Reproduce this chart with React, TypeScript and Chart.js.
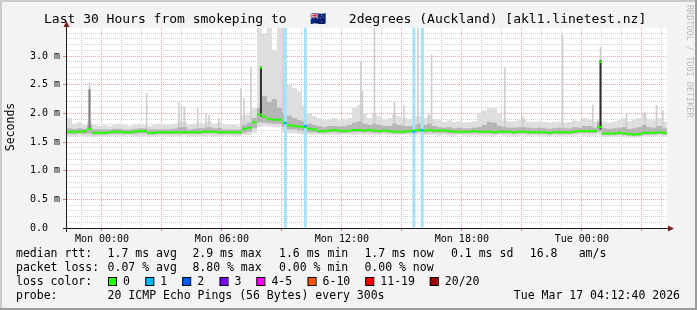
import React, { useEffect, useRef } from "react";
import { Chart, registerables } from "chart.js";

Chart.register(...registerables);

// ---- time axis (hours relative to Mon 00:00) ----
const axisStartHour = -1.75;
const axisEndHour = 28.26;
const binStartHour = -1.75;
const binStepHours = 0.25;
const tickHours = [0, 6, 12, 18, 24];
const tickLabels = ["Mon 00:00", "Mon 06:00", "Mon 12:00", "Mon 18:00", "Tue 00:00"];

// ---- smoke / median per 15-minute bin (ms) ----
const medianRtt = [
  1.68, 1.68, 1.68, 1.69, 1.73, 1.66, 1.66, 1.66, 1.67, 1.68,
  1.68, 1.67, 1.67, 1.68, 1.69, 1.69, 1.66, 1.66, 1.67, 1.67,
  1.67, 1.67, 1.67, 1.67, 1.67, 1.67, 1.67, 1.68, 1.68, 1.68,
  1.67, 1.67, 1.67, 1.67, 1.67, 1.73, 1.75, 1.84, 1.98, 1.94,
  1.90, 1.89, 1.89, 1.84, 1.79, 1.78, 1.77, 1.76, 1.73, 1.72,
  1.69, 1.69, 1.70, 1.71, 1.70, 1.69, 1.70, 1.71, 1.71, 1.70,
  1.71, 1.70, 1.69, 1.70, 1.69, 1.68, 1.68, 1.68, 1.69, 1.70,
  1.71, 1.70, 1.71, 1.70, 1.70, 1.70, 1.69, 1.68, 1.68, 1.68,
  1.68, 1.69, 1.68, 1.68, 1.68, 1.67, 1.68, 1.68, 1.68, 1.67,
  1.68, 1.68, 1.67, 1.67, 1.67, 1.67, 1.66, 1.67, 1.67, 1.67,
  1.67, 1.68, 1.69, 1.69, 1.69, 1.69, 1.76, 1.65, 1.65, 1.65,
  1.66, 1.65, 1.64, 1.63, 1.64, 1.66, 1.66, 1.66, 1.67, 1.66,
];

const smokeMin = [
  1.60, 1.60, 1.61, 1.60, 1.60, 1.59, 1.60, 1.60, 1.60, 1.61,
  1.60, 1.60, 1.61, 1.60, 1.60, 1.60, 1.59, 1.60, 1.60, 1.61,
  1.60, 1.60, 1.60, 1.61, 1.60, 1.60, 1.60, 1.60, 1.61, 1.60,
  1.60, 1.60, 1.61, 1.60, 1.60, 1.62, 1.62, 1.66, 1.76, 1.78,
  1.77, 1.76, 1.76, 1.66, 1.65, 1.65, 1.64, 1.63, 1.63, 1.63,
  1.63, 1.62, 1.63, 1.63, 1.62, 1.63, 1.63, 1.62, 1.63, 1.63,
  1.63, 1.62, 1.62, 1.63, 1.62, 1.62, 1.62, 1.63, 1.62, 1.62,
  1.63, 1.62, 1.62, 1.62, 1.61, 1.62, 1.61, 1.61, 1.62, 1.61,
  1.61, 1.62, 1.61, 1.61, 1.61, 1.61, 1.62, 1.61, 1.61, 1.60,
  1.61, 1.61, 1.60, 1.61, 1.60, 1.60, 1.60, 1.61, 1.60, 1.60,
  1.61, 1.61, 1.62, 1.61, 1.61, 1.61, 1.62, 1.59, 1.59, 1.59,
  1.60, 1.59, 1.58, 1.58, 1.58, 1.60, 1.60, 1.60, 1.61, 1.60,
];

const smokeMax = [
  1.92, 1.82, 1.85, 1.80, 1.86, 1.80, 1.78, 1.80, 1.78, 1.80,
  1.82, 1.80, 1.78, 1.80, 1.82, 1.80, 1.78, 1.80, 1.82, 1.80,
  1.80, 1.82, 1.86, 1.85, 1.80, 1.82, 1.84, 1.82, 1.86, 1.82,
  1.84, 1.80, 1.80, 1.80, 1.78, 1.97, 1.98, 2.09, 3.60, 3.40,
  3.60, 3.10, 3.60, 2.60, 2.50, 2.44, 2.38, 2.15, 2.00, 1.95,
  1.92, 1.88, 1.90, 1.92, 1.88, 1.90, 1.92, 2.10, 2.15, 2.00,
  1.92, 2.00, 1.95, 1.90, 1.92, 2.00, 1.95, 1.92, 1.90, 1.95,
  1.95, 1.92, 1.96, 1.90, 1.88, 1.85, 1.88, 1.85, 1.86, 1.84,
  1.85, 1.86, 2.00, 2.05, 2.09, 2.09, 2.00, 1.88, 1.86, 1.86,
  1.88, 1.90, 1.86, 1.85, 1.86, 1.85, 1.84, 1.85, 1.86, 1.84,
  1.85, 1.88, 1.86, 1.92, 1.90, 1.86, 1.90, 1.86, 1.84, 1.86,
  1.88, 1.92, 1.86, 1.90, 1.92, 2.00, 1.90, 1.88, 1.92, 1.86,
];

const smokeQ1 = [
  1.64, 1.64, 1.65, 1.64, 1.65, 1.63, 1.63, 1.63, 1.64, 1.64,
  1.64, 1.64, 1.64, 1.64, 1.65, 1.65, 1.63, 1.63, 1.64, 1.64,
  1.64, 1.64, 1.64, 1.64, 1.64, 1.64, 1.64, 1.65, 1.65, 1.65,
  1.64, 1.64, 1.64, 1.64, 1.64, 1.66, 1.68, 1.74, 1.84, 1.84,
  1.83, 1.82, 1.82, 1.76, 1.72, 1.72, 1.70, 1.69, 1.67, 1.67,
  1.66, 1.66, 1.67, 1.67, 1.66, 1.66, 1.67, 1.67, 1.67, 1.67,
  1.67, 1.66, 1.66, 1.67, 1.66, 1.65, 1.65, 1.65, 1.66, 1.66,
  1.67, 1.66, 1.67, 1.66, 1.66, 1.66, 1.65, 1.65, 1.65, 1.65,
  1.65, 1.65, 1.65, 1.65, 1.65, 1.64, 1.65, 1.65, 1.65, 1.64,
  1.65, 1.65, 1.64, 1.64, 1.64, 1.64, 1.63, 1.64, 1.64, 1.64,
  1.64, 1.65, 1.66, 1.66, 1.66, 1.66, 1.68, 1.62, 1.62, 1.62,
  1.63, 1.62, 1.61, 1.60, 1.61, 1.63, 1.63, 1.63, 1.64, 1.63,
];

const smokeQ3 = [
  1.74, 1.73, 1.74, 1.73, 1.80, 1.72, 1.72, 1.72, 1.72, 1.73,
  1.73, 1.72, 1.72, 1.73, 1.74, 1.74, 1.72, 1.72, 1.72, 1.72,
  1.72, 1.73, 1.76, 1.76, 1.72, 1.73, 1.74, 1.74, 1.76, 1.74,
  1.74, 1.72, 1.72, 1.72, 1.72, 1.80, 1.84, 1.92, 2.10, 2.30,
  2.20, 2.25, 2.10, 2.00, 1.96, 1.92, 1.88, 1.86, 1.82, 1.80,
  1.78, 1.76, 1.78, 1.78, 1.77, 1.78, 1.80, 1.84, 1.86, 1.82,
  1.80, 1.82, 1.80, 1.78, 1.78, 1.82, 1.80, 1.78, 1.78, 1.80,
  1.82, 1.80, 1.82, 1.78, 1.76, 1.75, 1.76, 1.74, 1.75, 1.74,
  1.74, 1.75, 1.76, 1.80, 1.85, 1.84, 1.78, 1.76, 1.75, 1.75,
  1.76, 1.76, 1.75, 1.74, 1.75, 1.74, 1.73, 1.74, 1.75, 1.74,
  1.74, 1.76, 1.75, 1.78, 1.78, 1.75, 1.85, 1.74, 1.73, 1.74,
  1.75, 1.76, 1.73, 1.74, 1.76, 1.80, 1.76, 1.75, 1.78, 1.74,
];

// ---- individual short-lived peaks (hour, ms) ----
const lightSpikeHours = [
  -0.625, 2.235, 3.85, 3.975, 4.115, 4.785, 5.2, 5.35, 5.85, 6.95, 7.1, 7.45,
  9.05, 12.95, 13.025, 13.625, 14.625, 15.1, 15.8, 16.05, 16.35, 16.485,
  20.15, 21.05, 23.035, 24.55, 24.935, 26.235, 27.15, 27.735, 28.05,
];
const lightSpikeTops = [
  2.54, 2.36, 2.19, 2.14, 2.12, 2.09, 2.0, 1.97, 1.92, 2.44, 2.27, 2.81,
  3.6, 2.9, 2.4, 3.6, 2.2, 2.15, 3.6, 3.6, 2.0, 3.03,
  2.81, 1.95, 3.37, 2.15, 3.16, 2.0, 2.03, 2.15, 2.06,
];
const lightSpikeBottoms = [
  1.72, 1.70, 1.70, 1.70, 1.70, 1.70, 1.70, 1.70, 1.70, 1.72, 1.72, 1.74,
  1.80, 1.72, 1.72, 1.71, 1.70, 1.70, 1.71, 1.71, 1.71, 1.71,
  1.69, 1.69, 1.69, 1.70, 1.72, 1.66, 1.67, 1.67, 1.67,
];

const midSpikeHours = [-0.625];
const midSpikeBottoms = [1.72];
const midSpikeTops = [2.42];

const darkSpikeHours = [7.95, 24.935];
const darkSpikeBottoms = [1.95, 1.72];
const darkSpikeTops = [2.82, 2.93];

const medianSpikeHours = [7.95, 24.935];
const medianSpikeValues = [2.8, 2.9];

// ---- packet loss events ----
const lossHours = [9.175, 10.175, 15.6, 16.015];
const lossMedians = [1.83, 1.78, 1.68, 1.71];

// ---- legend texts ----
const rttStats = ["1.7 ms avg", "2.9 ms max", "1.6 ms min", "1.7 ms now", "0.1 ms sd", "16.8", "am/s"];
const lossStats = ["0.07 % avg", "8.80 % max", "0.00 % min", "0.00 % now"];
const lossColorLabels = ["0", "1", "2", "3", "4-5", "6-10", "11-19", "20/20"];
const lossColorValues = ["#26ff00", "#00b8ff", "#0059ff", "#7e00ff", "#ff00ff", "#ff5500", "#ff0000", "#a00000"];
const titleParts = ["Last 30 Hours from smokeping to ", "🇳🇿", " 2degrees (Auckland) [akl1.linetest.nz]"];
const probeText = "20 ICMP Echo Pings (56 Bytes) every 300s";
const dateText = "Tue Mar 17 04:12:40 2026";

const MONO = "'DejaVu Sans Mono', monospace";
const MINOR = "#d2d2d2";
const MAJOR = "#eaa4a4";
const Y_MAX = 3.49;

const isMajorY = (v: number) => Math.abs(v * 2 - Math.round(v * 2)) < 1e-6;
const isMajorX = (v: number) => Math.abs(v / 3 - Math.round(v / 3)) < 1e-6;

const bgPlugin = {
  id: "rrdBackground",
  beforeDraw(chart: any) {
    const { ctx, width, height, chartArea: a } = chart;
    ctx.save();
    ctx.fillStyle = "#f3f3f3";
    ctx.fillRect(0, 0, width, height);
    ctx.fillStyle = "#cbcbcb";
    ctx.fillRect(0, 0, width, 2);
    ctx.fillRect(0, 0, 2, height);
    ctx.fillStyle = "#9b9b9b";
    ctx.fillRect(0, height - 2, width, 2);
    ctx.fillRect(width - 2, 0, 2, height);
    ctx.fillStyle = "#ffffff";
    ctx.fillRect(a.left, a.top, a.right - a.left, a.bottom - a.top);
    ctx.restore();
  },
};

const overlayPlugin = {
  id: "rrdOverlay",
  afterDraw(chart: any) {
    const { ctx, chartArea: a } = chart;
    ctx.save();
    // axes
    ctx.strokeStyle = "#1a1a1a";
    ctx.lineWidth = 1;
    ctx.beginPath();
    ctx.moveTo(a.left - 4, a.bottom + 0.5);
    ctx.lineTo(a.right + 3, a.bottom + 0.5);
    ctx.moveTo(a.left - 0.5, a.bottom + 4);
    ctx.lineTo(a.left - 0.5, a.top - 2);
    ctx.stroke();
    // arrows
    ctx.fillStyle = "#7f1f1f";
    ctx.beginPath();
    ctx.moveTo(a.left - 0.5, a.top - 7);
    ctx.lineTo(a.left - 3.5, a.top - 1);
    ctx.lineTo(a.left + 2.5, a.top - 1);
    ctx.closePath();
    ctx.fill();
    ctx.beginPath();
    ctx.moveTo(a.right + 7, a.bottom + 0.5);
    ctx.lineTo(a.right + 1, a.bottom - 2.5);
    ctx.lineTo(a.right + 1, a.bottom + 3.5);
    ctx.closePath();
    ctx.fill();

    // title
    ctx.fillStyle = "#000";
    ctx.font = `13px ${MONO}`;
    ctx.textBaseline = "alphabetic";
    ctx.textAlign = "left";
    ctx.fillText(titleParts[0], 44, 23);
    ctx.fillText(titleParts[1], 310, 23);
    ctx.fillText(titleParts[2], 341, 23);

    // y title
    ctx.save();
    ctx.translate(11, 127);
    ctx.rotate(-Math.PI / 2);
    ctx.font = `11.5px ${MONO}`;
    ctx.textAlign = "center";
    ctx.textBaseline = "middle";
    ctx.fillText("Seconds", 0, 0);
    ctx.restore();

    // watermark
    ctx.save();
    ctx.translate(689, 5);
    ctx.rotate(Math.PI / 2);
    ctx.font = `8.5px ${MONO}`;
    ctx.fillStyle = "#bdbdbd";
    ctx.textAlign = "left";
    ctx.textBaseline = "middle";
    ctx.fillText("RRDTOOL / TOBI OETIKER", 0, 0);
    ctx.restore();

    // legend
    ctx.font = `11.5px ${MONO}`;
    ctx.fillStyle = "#000";
    ctx.textBaseline = "middle";
    ctx.textAlign = "left";
    const r1 = 254, r2 = 268, r3 = 282, r4 = 296;
    ctx.fillText("median rtt:", 16, r1);
    const rttX = [107.6, 192.4, 279, 364.4, 451, 529.8, 578.7];
    rttStats.forEach((s, i) => ctx.fillText(s, rttX[i], r1));
    ctx.fillText("packet loss:", 16, r2);
    const lossX = [107.6, 192.4, 279, 364.4];
    lossStats.forEach((s, i) => ctx.fillText(s, lossX[i], r2));
    ctx.fillText("loss color:", 16, r3);
    const boxX = [108, 145.3, 182.2, 219.6, 256.4, 307.6, 365.3, 429.8];
    lossColorLabels.forEach((s, i) => {
      ctx.fillStyle = lossColorValues[i];
      ctx.fillRect(boxX[i], r3 - 4, 8, 8);
      ctx.strokeStyle = "#000";
      ctx.strokeRect(boxX[i] + 0.5, r3 - 4.5, 8, 8);
      ctx.fillStyle = "#000";
      ctx.fillText(s, boxX[i] + 15, r3);
    });
    ctx.fillText("probe:", 16, r4);
    ctx.fillText(probeText, 107.6, r4);
    ctx.textAlign = "right";
    ctx.fillText(dateText, 680, r4);
    ctx.restore();
  },
};

export default function App() {
  const ref = useRef<HTMLCanvasElement | null>(null);

  useEffect(() => {
    if (!ref.current) return;
    const binCenters = medianRtt.map((_, i) => binStartHour + binStepHours * i + binStepHours / 2);
    const common = { grouped: false, inflateAmount: 0, borderWidth: 0, clip: 0 } as any;

    const chart = new Chart(ref.current, {
      type: "bar",
      data: {
        datasets: [
          {
            ...common,
            label: "smoke",
            data: binCenters.map((x, i) => ({ x, y: [smokeMin[i], smokeMax[i]] })),
            backgroundColor: "#dedede",
            barThickness: 5,
            order: 12,
          },
          {
            ...common,
            label: "peaks",
            data: lightSpikeHours.map((x, i) => ({ x, y: [lightSpikeBottoms[i], lightSpikeTops[i]] })),
            backgroundColor: "#cdcdcd",
            barThickness: 1.6,
            order: 11,
          },
          {
            ...common,
            label: "core",
            data: binCenters.map((x, i) => ({ x, y: [smokeQ1[i], smokeQ3[i]] })),
            backgroundColor: "#b5b5b5",
            barThickness: 5,
            order: 10,
          },
          {
            ...common,
            label: "mid peaks",
            data: midSpikeHours.map((x, i) => ({ x, y: [midSpikeBottoms[i], midSpikeTops[i]] })),
            backgroundColor: "#777777",
            barThickness: 2,
            order: 9,
          },
          {
            ...common,
            label: "dark peaks",
            data: darkSpikeHours.map((x, i) => ({ x, y: [darkSpikeBottoms[i], darkSpikeTops[i]] })),
            backgroundColor: "#2e2e2e",
            barThickness: 2,
            order: 8,
          },
          {
            ...common,
            label: "loss",
            data: lossHours.map((x) => ({ x, y: [0, Y_MAX + 0.2] })),
            backgroundColor: "#a6e3fb",
            barThickness: 3,
            order: 7,
          },
          {
            ...common,
            label: "median",
            data: binCenters.map((x, i) => ({ x, y: [medianRtt[i] - 0.018, medianRtt[i] + 0.018] })),
            backgroundColor: lossColorValues[0],
            barThickness: 5,
            order: 3,
          },
          {
            ...common,
            label: "median peaks",
            data: medianSpikeHours.map((x, i) => ({ x, y: [medianSpikeValues[i] - 0.02, medianSpikeValues[i] + 0.02] })),
            backgroundColor: lossColorValues[0],
            barThickness: 2,
            order: 2,
          },
          {
            ...common,
            label: "loss median",
            data: lossHours.map((x, i) => ({ x, y: [lossMedians[i] - 0.02, lossMedians[i] + 0.02] })),
            backgroundColor: lossColorValues[1],
            barThickness: 3,
            order: 1,
          },
        ],
      },
      options: {
        responsive: false,
        maintainAspectRatio: false,
        animation: false,
        devicePixelRatio: 1,
        layout: { padding: { left: 0, top: 28, right: 30, bottom: 62 } },
        plugins: { legend: { display: false }, tooltip: { enabled: false }, title: { display: false } },
        scales: {
          x: {
            type: "linear",
            offset: false,
            min: axisStartHour,
            max: axisEndHour,
            afterFit: (s: any) => {
              s.height = 20;
            },
            border: { display: false, dash: [1, 1] },
            grid: {
              offset: false,
              color: (c: any) => (c.tick && isMajorX(c.tick.value) ? MAJOR : MINOR),
              tickColor: (c: any) => (c.tick && isMajorX(c.tick.value) ? "#e07a7a" : "rgba(0,0,0,0)"),
              tickLength: 3,
            },
            ticks: {
              stepSize: 1,
              autoSkip: false,
              includeBounds: false,
              maxRotation: 0,
              padding: 2,
              color: "#000",
              font: { family: MONO, size: 10 },
              callback: (v: any) => {
                const idx = tickHours.findIndex((h) => Math.abs(h - Number(v)) < 1e-6);
                return idx >= 0 ? tickLabels[idx] : "";
              },
            },
          },
          y: {
            type: "linear",
            min: 0,
            max: Y_MAX,
            afterFit: (s: any) => {
              s.width = 67;
            },
            border: { display: false, dash: [1, 1] },
            grid: {
              color: (c: any) => (c.tick && isMajorY(c.tick.value) ? MAJOR : MINOR),
              tickColor: (c: any) => (c.tick && isMajorY(c.tick.value) ? "#e07a7a" : "rgba(0,0,0,0)"),
              tickLength: 4,
            },
            ticks: {
              stepSize: 0.1,
              autoSkip: false,
              includeBounds: false,
              padding: 3,
              color: "#000",
              font: { family: MONO, size: 10 },
              callback: (v: any) => {
                const n = Number(v);
                if (!isMajorY(n)) return "";
                return n < 1e-6 ? "0.0  " : `${n.toFixed(1)} m`;
              },
            },
          },
        },
      } as any,
      plugins: [bgPlugin, overlayPlugin],
    });
    return () => chart.destroy();
  }, []);

  return (
    <div style={{ position: "fixed", left: 0, top: 0, width: 697, height: 310 }}>
      <canvas ref={ref} width={697} height={310} style={{ display: "block", width: 697, height: 310 }} />
    </div>
  );
}
